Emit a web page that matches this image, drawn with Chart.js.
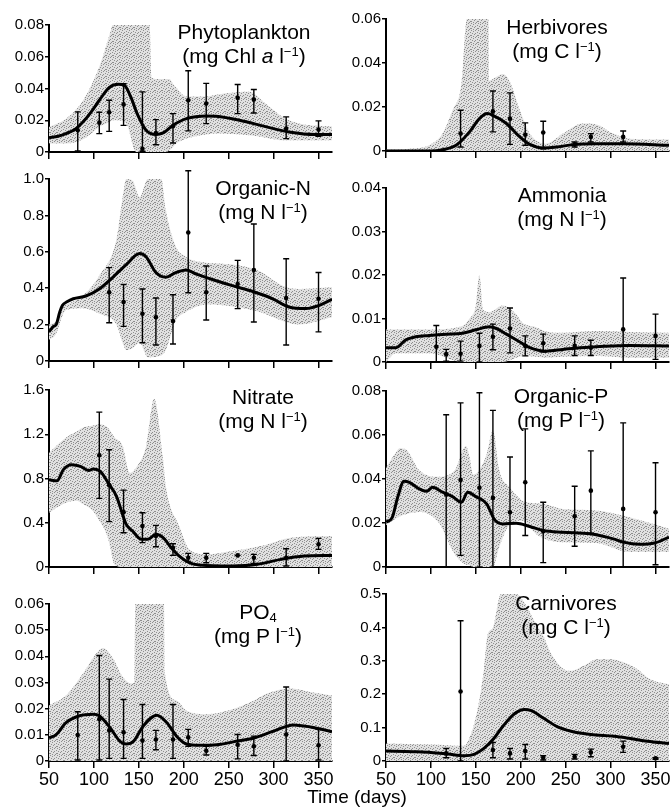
<!DOCTYPE html>
<html>
<head>
<meta charset="utf-8">
<script src="https://cdn.jsdelivr.net/npm/chart.js@4.4.0/dist/chart.umd.min.js"></script>
<style>
  html, body { margin: 0; padding: 0; background: #fff; overflow: hidden; }
  body { width: 670px; height: 807px; position: relative; }
  canvas { position: absolute; z-index: 1; }
  .t {
    position: absolute; z-index: 2; transform: translateX(-50%); text-align: center;
    font: 21px/24px 'Liberation Sans', Arial, sans-serif; color: #000; white-space: nowrap;
  }
  .t sup { font-size: 13px; line-height: 0; vertical-align: 0.55em; }
  .t sub { font-size: 13px; line-height: 0; vertical-align: -0.25em; }
  .xt { position: absolute; z-index: 2; transform: translateX(-50%); font: 19px 'Liberation Sans', Arial, sans-serif; white-space: nowrap; }
</style>
</head>
<body>

<div class="t" style="left:244px;top:20px">Phytoplankton<br>(mg Chl <i>a</i> l<sup>−1</sup>)</div>
<div class="t" style="left:557px;top:15px">Herbivores<br>(mg C l<sup>−1</sup>)</div>
<div class="t" style="left:263px;top:176px">Organic-N<br>(mg N l<sup>−1</sup>)</div>
<div class="t" style="left:562px;top:183px">Ammonia<br>(mg N l<sup>−1</sup>)</div>
<div class="t" style="left:263px;top:385px">Nitrate<br>(mg N l<sup>−1</sup>)</div>
<div class="t" style="left:561px;top:384px">Organic-P<br>(mg P l<sup>−1</sup>)</div>
<div class="t" style="left:258px;top:600px">PO<sub>4</sub><br>(mg P l<sup>−1</sup>)</div>
<div class="t" style="left:566px;top:591px">Carnivores<br>(mg C l<sup>−1</sup>)</div>
<div class="xt" style="left:357px;top:786px">Time (days)</div>

<script>
// sampling dates shared by all observation series
const sampleDays = [82, 106, 117, 133, 154, 169, 188, 205, 225, 260, 278, 314, 350];
const xTicks = [50, 100, 150, 200, 250, 300, 350];

// Phytoplankton
const phytoTicks = ['0', '0.02', '0.04', '0.06', '0.08'];
const phytoLineDays = [50, 60, 69, 80, 88, 97, 106, 117, 127, 134, 141, 149, 158, 169, 177, 188, 203, 225, 236, 262, 291, 317, 347, 365];
const phytoLine = [0.009, 0.0099, 0.0116, 0.0147, 0.019, 0.0253, 0.0326, 0.0406, 0.0427, 0.042, 0.0347, 0.023, 0.0137, 0.011, 0.012, 0.0168, 0.021, 0.0227, 0.0225, 0.020, 0.016, 0.0126, 0.011, 0.011];
const phytoBandDays = [50, 69, 88, 106, 118, 121, 125, 136, 147, 158, 162, 164, 173, 180, 184, 188, 191, 203, 210, 225, 236, 247, 273, 291, 310, 328, 365];
const phytoBandHi = [0.0158, 0.021, 0.0326, 0.0537, 0.075, 0.08, 0.08, 0.08, 0.08, 0.08, 0.08, 0.047, 0.046, 0.046, 0.046, 0.043, 0.041, 0.035, 0.035, 0.035, 0.036, 0.037, 0.038, 0.0305, 0.022, 0.018, 0.016];
const phytoBandLo = [0.0053, 0.0053, 0.008, 0.0158, 0.019, 0.02, 0.02, 0.018, 0, 0, 0, 0, 0, 0, 0.001, 0.003, 0.005, 0.0085, 0.0095, 0.011, 0.0116, 0.0115, 0.0105, 0.009, 0.0074, 0.0074, 0.0074];
const phytoMean = [0.0137, 0.0185, 0.025, 0.030, 0.002, 0.012, 0.0162, 0.0326, 0.0305, 0.0341, 0.033, 0.0147, 0.0141];
const phytoLo = [0.0006, 0.0116, 0.013, 0.0168, 0.0005, 0.0046, 0.0057, 0.0133, 0.0179, 0.0242, 0.0246, 0.0084, 0.0099];
const phytoHi = [0.0253, 0.025, 0.0326, 0.043, 0.0379, 0.0204, 0.0242, 0.0512, 0.0432, 0.0425, 0.0394, 0.0221, 0.0196];

// Herbivores
const herbTicks = ['0', '0.02', '0.04', '0.06'];
const herbLineDays = [50, 100, 113, 128, 143, 154, 163, 169, 184, 199, 210, 225, 240, 258, 284, 314, 365];
const herbLine = [0, 0, 0.0006, 0.0026, 0.0087, 0.0147, 0.017, 0.0162, 0.0125, 0.0064, 0.003, 0.0014, 0.0018, 0.0029, 0.0033, 0.0033, 0.0026];
const herbBandDays = [50, 76, 98, 113, 124, 134, 140, 164, 165, 173, 180, 188, 199, 210, 228, 247, 269, 284, 303, 321, 365];
const herbBandHi = [0.0006, 0.001, 0.0026, 0.0079, 0.0185, 0.0307, 0.06, 0.06, 0.032, 0.0337, 0.035, 0.0314, 0.0185, 0.0079, 0.0033, 0.0079, 0.0125, 0.0121, 0.0079, 0.0056, 0.0052];
const herbMean = [null, null, null, 0.0079, null, 0.018, 0.0147, 0.0074, 0.0084, 0.003, 0.0064, 0.0064, null];
const herbLo = [null, null, null, 0.0018, null, 0.0087, 0.003, 0.0026, 0.001, 0.0018, 0.0041, 0.0041, null];
const herbHi = [null, null, null, 0.0185, null, 0.0273, 0.0264, 0.0128, 0.0135, 0.0041, 0.0079, 0.0091, null];

// Organic-N
const orgNTicks = ['0', '0.2', '0.4', '0.6', '0.8', '1.0'];
const orgNLineDays = [50, 55, 58, 62, 65, 70, 77, 91, 106, 121, 136, 151, 158, 169, 180, 191, 203, 214, 236, 254, 277, 299, 317, 336, 351, 365];
const orgNLine = [0.16, 0.19, 0.2, 0.27, 0.306, 0.325, 0.342, 0.357, 0.396, 0.46, 0.53, 0.59, 0.573, 0.486, 0.46, 0.486, 0.50, 0.477, 0.441, 0.414, 0.382, 0.342, 0.297, 0.288, 0.306, 0.339];
const orgNBandDays = [50, 58, 65, 69, 88, 106, 125, 132, 136, 143, 151, 160, 175, 180, 191, 203, 206, 225, 254, 284, 310, 328, 365];
const orgNBandHi = [0.2, 0.22, 0.3, 0.31, 0.36, 0.468, 0.667, 0.9, 1.0, 0.99, 0.9, 1.0, 1.0, 0.83, 0.63, 0.57, 0.56, 0.54, 0.53, 0.495, 0.414, 0.396, 0.405];
const orgNBandLo = [0.115, 0.15, 0.25, 0.28, 0.29, 0.26, 0.2, 0.1, 0.06, 0.07, 0.1, 0.02, 0.03, 0.06, 0.22, 0.27, 0.28, 0.31, 0.30, 0.27, 0.22, 0.2, 0.24];
const orgNMean = [null, null, 0.378, 0.324, 0.26, 0.24, 0.22, 0.706, 0.378, 0.423, 0.50, 0.346, 0.342];
const orgNLo = [null, null, 0.21, 0.19, 0.10, 0.088, 0.093, 0.375, 0.225, 0.288, 0.214, 0.088, 0.16];
const orgNHi = [null, null, 0.513, 0.42, 0.396, 0.346, 0.364, 1.045, 0.522, 0.553, 0.753, 0.562, 0.486];

// Ammonia
const ammTicks = ['0', '0.01', '0.02', '0.03', '0.04'];
const ammLineDays = [50, 61, 72, 83, 98, 117, 135, 150, 165, 173, 184, 199, 210, 228, 247, 266, 284, 321, 365];
const ammLine = [0.0033, 0.0033, 0.0051, 0.0058, 0.0061, 0.0064, 0.0066, 0.0074, 0.0081, 0.0077, 0.0064, 0.0046, 0.0033, 0.0025, 0.0029, 0.0033, 0.0035, 0.0038, 0.0037];
const ammBandDays = [50, 61, 98, 135, 143, 150, 154, 158, 165, 180, 195, 202, 217, 228, 247, 284, 321, 365];
const ammBandHi = [0.0075, 0.0075, 0.0075, 0.0083, 0.01, 0.013, 0.02, 0.012, 0.0115, 0.013, 0.011, 0.009, 0.008, 0.007, 0.0067, 0.0071, 0.0069, 0.0067];
const ammBandLo = [0, 0.002, 0.002, 0, 0, 0, 0, 0, 0, 0, 0.001, 0.0014, 0.0012, 0.001, 0.0012, 0.0014, 0.001, 0.001];
const ammMean = [null, 0.0035, 0.0018, 0.0019, 0.0037, 0.0058, 0.0077, 0.0037, 0.0043, 0.0037, 0.0033, 0.0075, 0.006];
const ammLo = [null, 0, 0.0002, 0.0002, 0, 0.0028, 0.0021, 0.0014, 0.0023, 0.0015, 0.0015, 0, 0.0006];
const ammHi = [null, 0.0084, 0.0029, 0.0048, 0.0066, 0.0087, 0.0124, 0.006, 0.0064, 0.006, 0.005, 0.0193, 0.011];

// Nitrate
const nitTicks = ['0', '0.4', '0.8', '1.2', '1.6'];
const nitLineDays = [50, 59, 66, 75, 85, 94, 99, 107, 117, 125, 136, 143, 153, 160, 169, 177, 186, 195, 206, 217, 254, 282, 308, 334, 365];
const nitLine = [0.788, 0.78, 0.88, 0.925, 0.91, 0.873, 0.885, 0.864, 0.746, 0.641, 0.385, 0.325, 0.25, 0.25, 0.295, 0.265, 0.174, 0.099, 0.039, 0.018, 0.009, 0.024, 0.069, 0.099, 0.105];
const nitBandDays = [50, 69, 80, 88, 99, 106, 114, 117, 123, 132, 140, 147, 158, 167, 177, 180, 195, 206, 225, 254, 291, 319, 365];
const nitBandHi = [1.033, 1.17, 1.22, 1.26, 1.28, 1.29, 1.27, 1.245, 1.17, 1.094, 0.85, 0.9, 1.09, 1.52, 0.97, 0.73, 0.37, 0.16, 0.114, 0.144, 0.2, 0.265, 0.28];
const nitBandLo = [0.49, 0.58, 0.6, 0.57, 0.505, 0.42, 0.3, 0.22, 0.02, 0, 0, 0, 0, 0, 0, 0, 0, 0, 0, 0, 0, 0, 0];
const nitMean = [null, 1.01, 0.74, 0.496, 0.37, 0.28, 0.174, 0.084, 0.084, 0.105, 0.084, 0.084, 0.205];
const nitLo = [null, 0.62, 0.41, 0.31, 0.22, 0.183, 0.105, 0.045, 0.039, 0.105, 0.033, 0.009, 0.159];
const nitHi = [null, 1.40, 1.06, 0.695, 0.49, 0.376, 0.21, 0.123, 0.123, 0.105, 0.114, 0.165, 0.259];

// Organic-P
const orgPTicks = ['0', '0.02', '0.04', '0.06', '0.08'];
const orgPLineDays = [50, 57, 63, 70, 76, 87, 95, 102, 113, 124, 134, 141, 150, 162, 171, 180, 195, 210, 225, 247, 277, 303, 314, 332, 349, 365];
const orgPLine = [0.0204, 0.0226, 0.0317, 0.039, 0.0385, 0.0355, 0.0344, 0.0362, 0.034, 0.032, 0.0294, 0.034, 0.032, 0.0287, 0.0214, 0.0196, 0.0199, 0.0184, 0.0166, 0.0158, 0.0151, 0.0128, 0.0113, 0.0103, 0.0109, 0.0136];
const orgPBandDays = [50, 61, 65, 72, 87, 109, 124, 128, 139, 143, 147, 162, 169, 176, 188, 199, 202, 217, 225, 247, 284, 321, 365];
const orgPBandHi = [0.045, 0.052, 0.054, 0.0535, 0.044, 0.041, 0.043, 0.045, 0.055, 0.05, 0.042, 0.051, 0.062, 0.044, 0.036, 0.031, 0.030, 0.029, 0.0287, 0.0264, 0.0257, 0.0226, 0.0174];
const orgPBandLo = [0.019, 0.022, 0.023, 0.024, 0.025, 0.02, 0.0075, 0.005, 0.001, 0.0008, 0, 0, 0, 0.009, 0.0196, 0.021, 0.021, 0.015, 0.013, 0.0113, 0.0109, 0.0068, 0.0068];
const orgPMean = [null, null, 0.033, 0.0396, 0.036, 0.0314, 0.0249, 0.0385, 0.0162, 0.0231, 0.0347, 0.0264, 0.0249];
const orgPLo = [null, null, 0, 0.0053, 0, 0, 0, 0.0143, 0.002, 0.0094, 0.0154, 0, 0.001];
const orgPHi = [null, null, 0.0692, 0.0746, 0.0792, 0.0712, 0.05, 0.0628, 0.0294, 0.0367, 0.0528, 0.0655, 0.0474];

// PO4
const po4Ticks = ['0', '0.01', '0.02', '0.03', '0.04', '0.05', '0.06'];
const po4LineDays = [50, 58, 69, 84, 99, 106, 118, 129, 136, 144, 155, 170, 181, 192, 203, 218, 237, 255, 278, 300, 322, 341, 365];
const po4Line = [0.0088, 0.0101, 0.0147, 0.0173, 0.0179, 0.0173, 0.0127, 0.0075, 0.0065, 0.0075, 0.0134, 0.0175, 0.0147, 0.0095, 0.0065, 0.006, 0.0062, 0.0073, 0.0088, 0.0114, 0.0138, 0.013, 0.0112];
const po4BandDays = [50, 69, 88, 103, 110, 121, 132, 142, 145, 146, 178, 179, 192, 203, 225, 255, 278, 292, 318, 341, 365];
const po4BandHi = [0.0212, 0.025, 0.0335, 0.0413, 0.0432, 0.0394, 0.0322, 0.0296, 0.03, 0.06, 0.06, 0.0335, 0.0231, 0.0192, 0.0179, 0.0199, 0.0231, 0.0257, 0.0277, 0.0264, 0.025];
const po4Mean = [0.0099, 0.016, 0.0117, 0.011, 0.0078, 0.0082, 0.0082, 0.0091, 0.0039, 0.0062, 0.0056, 0.0101, 0.006];
const po4Lo = [0.0004, 0.0004, 0.001, 0.001, 0.001, 0.0043, 0.001, 0.0056, 0.0023, 0.0008, 0.0021, 0, 0.0004];
const po4Hi = [0.0188, 0.0403, 0.0313, 0.0235, 0.0216, 0.0117, 0.0216, 0.0121, 0.0056, 0.0101, 0.0095, 0.0283, 0.0121];

// Carnivores
const carnTicks = ['0', '0.1', '0.2', '0.3', '0.4', '0.5'];
const carnLineDays = [50, 81, 100, 119, 137, 148, 159, 170, 181, 193, 204, 211, 226, 241, 256, 278, 304, 322, 341, 365];
const carnLine = [0.0297, 0.0277, 0.0257, 0.0208, 0.0158, 0.0198, 0.0376, 0.0673, 0.107, 0.1416, 0.1545, 0.1515, 0.127, 0.102, 0.089, 0.079, 0.074, 0.0673, 0.0594, 0.0525];
const carnBandDays = [50, 100, 137, 144, 152, 159, 163, 169, 178, 195, 205, 215, 226, 233, 248, 256, 270, 285, 300, 315, 330, 344, 365];
const carnBandHi = [0.0525, 0.0495, 0.0455, 0.077, 0.156, 0.275, 0.377, 0.40, 0.5, 0.5, 0.47, 0.42, 0.37, 0.325, 0.275, 0.27, 0.285, 0.305, 0.305, 0.295, 0.275, 0.245, 0.23];
const carnMean = [null, null, 0.0228, 0.208, null, 0.0327, 0.0228, 0.0297, 0.0099, 0.0129, 0.0257, 0.0426, 0.0079];
const carnLo = [null, null, 0.0099, 0, null, 0.0099, 0.006, 0.006, 0.003, 0.006, 0.0129, 0.0257, 0.005];
const carnHi = [null, null, 0.0376, 0.42, null, 0.0554, 0.0376, 0.0495, 0.0158, 0.0198, 0.0356, 0.0594, 0.0099];

// layout of the 8 panels (axis corner positions on the page)
const LEFT_AX = 49, RIGHT_AX = 386;
const AREA_W = 283, Y_W = 48, PAD_T = 10, PAD_R = 4;
const FONT = "'Liberation Sans', Arial, Helvetica, sans-serif";

const panels = [
  { ax: LEFT_AX, top: 25, bottom: 152, last: false, yMax: 0.08, ticks: phytoTicks, lineDays: phytoLineDays, line: phytoLine, bandDays: phytoBandDays, bandHi: phytoBandHi, bandLo: phytoBandLo, mean: phytoMean, lo: phytoLo, hi: phytoHi },
  { ax: RIGHT_AX, top: 19, bottom: 151, last: false, yMax: 0.06, ticks: herbTicks, lineDays: herbLineDays, line: herbLine, bandDays: herbBandDays, bandHi: herbBandHi, bandLo: null, mean: herbMean, lo: herbLo, hi: herbHi },
  { ax: LEFT_AX, top: 179, bottom: 361, last: false, yMax: 1.0, ticks: orgNTicks, lineDays: orgNLineDays, line: orgNLine, bandDays: orgNBandDays, bandHi: orgNBandHi, bandLo: orgNBandLo, mean: orgNMean, lo: orgNLo, hi: orgNHi },
  { ax: RIGHT_AX, top: 188, bottom: 362, last: false, yMax: 0.04, ticks: ammTicks, lineDays: ammLineDays, line: ammLine, bandDays: ammBandDays, bandHi: ammBandHi, bandLo: ammBandLo, mean: ammMean, lo: ammLo, hi: ammHi },
  { ax: LEFT_AX, top: 390, bottom: 567, last: false, yMax: 1.6, ticks: nitTicks, lineDays: nitLineDays, line: nitLine, bandDays: nitBandDays, bandHi: nitBandHi, bandLo: nitBandLo, mean: nitMean, lo: nitLo, hi: nitHi },
  { ax: RIGHT_AX, top: 391, bottom: 567, last: false, yMax: 0.08, ticks: orgPTicks, lineDays: orgPLineDays, line: orgPLine, bandDays: orgPBandDays, bandHi: orgPBandHi, bandLo: orgPBandLo, mean: orgPMean, lo: orgPLo, hi: orgPHi },
  { ax: LEFT_AX, top: 604, bottom: 761, last: true, yMax: 0.06, ticks: po4Ticks, lineDays: po4LineDays, line: po4Line, bandDays: po4BandDays, bandHi: po4BandHi, bandLo: null, mean: po4Mean, lo: po4Lo, hi: po4Hi },
  { ax: RIGHT_AX, top: 594, bottom: 761, last: true, yMax: 0.5, ticks: carnTicks, lineDays: carnLineDays, line: carnLine, bandDays: carnBandDays, bandHi: carnBandHi, bandLo: null, mean: carnMean, lo: carnLo, hi: carnHi },
];

// vertical error bars with small caps, placed through the chart scales
const errorBars = {
  id: 'errorBars',
  afterDatasetsDraw(chart, args, opts) {
    const { ctx, scales: { x, y } } = chart;
    ctx.save();
    ctx.strokeStyle = '#000';
    ctx.lineWidth = 1.4;
    opts.days.forEach((d, i) => {
      if (opts.lo[i] == null) return;
      const px = x.getPixelForValue(d);
      const y1 = y.getPixelForValue(opts.lo[i]);
      const y2 = y.getPixelForValue(opts.hi[i]);
      ctx.beginPath();
      ctx.moveTo(px, y1); ctx.lineTo(px, y2);
      ctx.moveTo(px - 3, y1); ctx.lineTo(px + 3, y1);
      ctx.moveTo(px - 3, y2); ctx.lineTo(px + 3, y2);
      ctx.stroke();
    });
    ctx.restore();
  }
};

// printed-screen look for the band: light grey with scattered darker dots
function stipple(ctx) {
  const c = document.createElement('canvas');
  c.width = 7; c.height = 7;
  const g = c.getContext('2d');
  g.fillStyle = '#e0e0e0';
  g.fillRect(0, 0, 7, 7);
  g.fillStyle = '#8e8e8e';
  [[0, 0], [4, 0], [2, 1], [6, 2], [1, 3], [4, 3], [3, 4], [6, 5], [0, 5], [2, 6], [5, 6]]
    .forEach(([a, b]) => g.fillRect(a, b, 1, 1));
  return ctx.createPattern(c, 'repeat');
}

const pts = (xs, ys) => xs.map((v, i) => ({ x: v, y: ys[i] })).filter(p => p.y != null);

panels.forEach(p => {
  const xH = p.last ? 34 : 12;
  const cv = document.createElement('canvas');
  cv.width = Y_W + AREA_W + PAD_R;
  cv.height = PAD_T + (p.bottom - p.top) + xH;
  cv.style.left = (p.ax - Y_W) + 'px';
  cv.style.top = (p.top - PAD_T) + 'px';
  document.body.appendChild(cv);
  const ctx = cv.getContext('2d');

  const datasets = [
    { data: pts(sampleDays, p.mean), showLine: false, pointRadius: 2.3, pointBackgroundColor: '#000', pointBorderColor: '#000', pointBorderWidth: 0 },
    { data: pts(p.lineDays, p.line), showLine: true, borderColor: '#000', borderWidth: 3, pointRadius: 0, cubicInterpolationMode: 'monotone', fill: false },
    { data: pts(p.bandDays, p.bandHi), showLine: true, borderWidth: 0, borderColor: 'rgba(0,0,0,0)', pointRadius: 0, cubicInterpolationMode: 'monotone',
      backgroundColor: stipple(ctx), fill: p.bandLo ? '+1' : 'origin' },
  ];
  if (p.bandLo) {
    datasets.push({ data: pts(p.bandDays, p.bandLo), showLine: true, borderWidth: 0, borderColor: 'rgba(0,0,0,0)', pointRadius: 0, cubicInterpolationMode: 'monotone', fill: false });
  }

  new Chart(ctx, {
    type: 'scatter',
    data: { datasets },
    plugins: [errorBars],
    options: {
      responsive: false,
      animation: false,
      events: [],
      layout: { padding: { top: PAD_T, right: PAD_R, left: 0, bottom: 0 } },
      plugins: {
        legend: { display: false },
        tooltip: { enabled: false },
        errorBars: { days: sampleDays, lo: p.lo, hi: p.hi },
      },
      scales: {
        x: {
          type: 'linear', min: 50, max: 365,
          afterBuildTicks: s => { s.ticks = xTicks.map(v => ({ value: v })); },
          afterFit: s => { s.height = xH; },
          ticks: { display: p.last, maxRotation: 0, autoSkip: false, padding: 1, color: '#000', font: { family: FONT, size: 18 } },
          grid: { drawOnChartArea: false, drawTicks: true, tickLength: 7, color: '#000', lineWidth: 1.5 },
          border: { display: true, color: '#000', width: 2 },
        },
        y: {
          type: 'linear', min: 0, max: p.yMax,
          afterBuildTicks: s => { s.ticks = p.ticks.map(v => ({ value: Number(v) })); },
          afterFit: s => { s.width = Y_W; },
          ticks: { callback: (v, i) => p.ticks[i], padding: 1, autoSkip: false, color: '#000', font: { family: FONT, size: 15 } },
          grid: { drawOnChartArea: false, drawTicks: true, tickLength: 4, color: '#000', lineWidth: 1.5 },
          border: { display: true, color: '#000', width: 2 },
        },
      },
    },
  });
});
</script>
</body>
</html>
